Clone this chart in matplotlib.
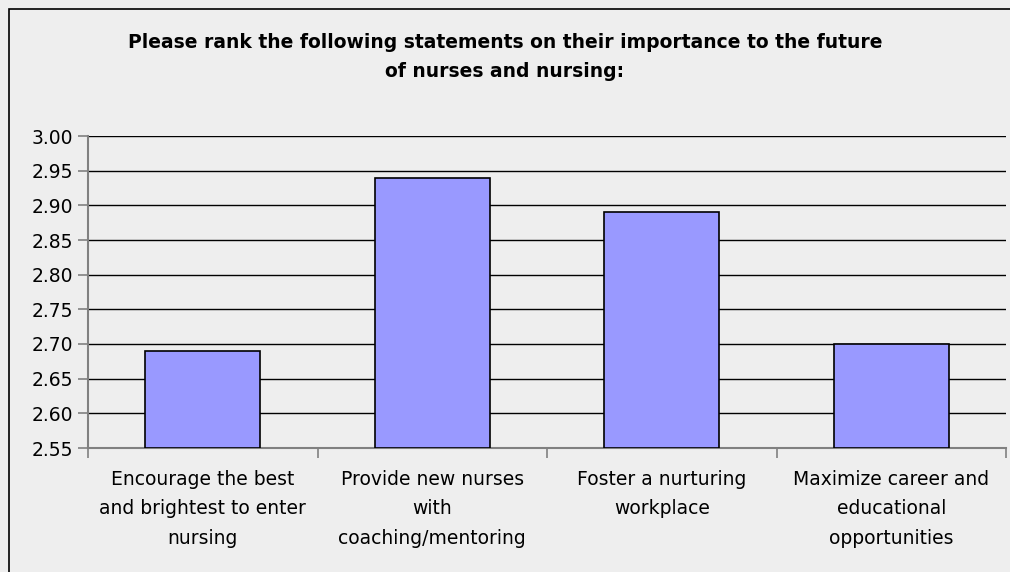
import numpy as np
import matplotlib.pyplot as plt
from matplotlib.patches import Rectangle

categories = ["Encourage the best\nand brightest to enter\nnursing",
              "Provide new nurses\nwith\ncoaching/mentoring",
              "Foster a nurturing\nworkplace",
              "Maximize career and\neducational\nopportunities"]
values = [2.69, 2.94, 2.89, 2.70]
yticks = [2.55, 2.60, 2.65, 2.70, 2.75, 2.80, 2.85, 2.90, 2.95, 3.00]
title = "Please rank the following statements on their importance to the future\nof nurses and nursing:"

bg = "#eeeeee"
fig = plt.figure(figsize=(10.1, 5.72), dpi=100, facecolor=bg)
ax = fig.add_axes([88/1010, 1 - 448/572, 918/1010, 312/572], facecolor=bg)

# outer chart border (only left and top are visible in the crop)
fig.patches.append(Rectangle((9/1010, -0.1), 1.2, 1 - 9/572 + 0.1, transform=fig.transFigure,
                             fill=False, edgecolor="black", linewidth=1.2))

x = np.arange(len(categories))
ax.bar(x, [v - 2.55 for v in values], bottom=2.55, width=0.5,
       color="#9999ff", edgecolor="black", linewidth=1.2, zorder=3)

ax.set_xlim(-0.5, len(categories) - 0.5)
ax.set_ylim(2.55, 3.00)
ax.set_yticks(yticks)
ax.set_yticklabels([f"{t:.2f}" for t in yticks], fontsize=13.5)
ax.yaxis.grid(True, color="black", linewidth=1.0, zorder=0)

ax.set_xticks(x)
ax.set_xticklabels(categories, fontsize=13.5, linespacing=1.68)
ax.set_xticks(np.arange(len(categories) + 1) - 0.5, minor=True)
ax.tick_params(axis="x", which="major", length=0, pad=16)
ax.tick_params(axis="x", which="minor", length=7, color="#808080", width=1.2)
ax.tick_params(axis="y", length=7, color="#808080", width=1.2, pad=4)

for s in ["top", "right"]:
    ax.spines[s].set_visible(False)
ax.spines["left"].set_color("#808080")
ax.spines["bottom"].set_color("#808080")
ax.spines["left"].set_linewidth(1.5)
ax.spines["bottom"].set_linewidth(1.5)

fig.text(0.5, 1 - 57/572, title, ha="center", va="center", fontsize=13.5,
         fontweight="bold", linespacing=1.65)

fig.savefig("out.png", dpi=100, facecolor=bg)
